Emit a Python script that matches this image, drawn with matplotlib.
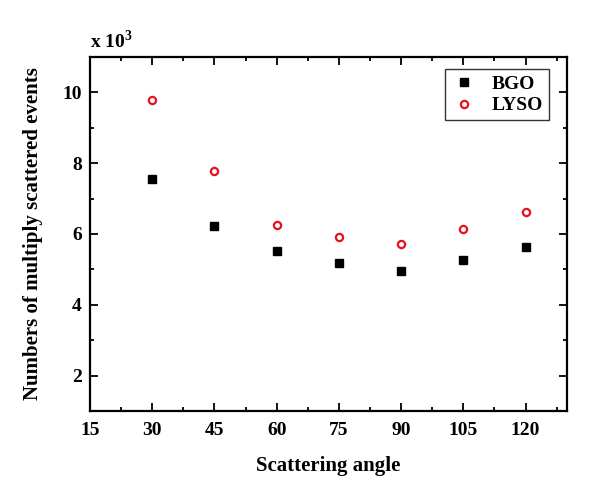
import matplotlib
matplotlib.use("Agg")
import matplotlib.pyplot as plt
from matplotlib.ticker import MultipleLocator

# ---- data (counts in units of 10^3) ----------------------------------- #
angles = [30, 45, 60, 75, 90, 105, 120]
bgo = [7.55, 6.22, 5.53, 5.17, 4.95, 5.26, 5.63]
lyso = [9.78, 7.77, 6.25, 5.92, 5.73, 6.14, 6.61]

plt.rcParams["font.family"] = "Liberation Serif"
plt.rcParams["font.weight"] = "bold"
plt.rcParams["mathtext.fontset"] = "custom"
plt.rcParams["mathtext.rm"] = "Liberation Serif:bold"
plt.rcParams["mathtext.bf"] = "Liberation Serif:bold"

W, H = 591, 495
fig = plt.figure(figsize=(W / 100, H / 100), dpi=100)
L, R, T, B = 90, 567, 57, 411
ax = fig.add_axes([L / W, (H - B) / H, (R - L) / W, (B - T) / H])

ax.plot(angles, bgo, ls="none", marker="s", ms=6.0, color="black",
        label="BGO")
ax.plot(angles, lyso, ls="none", marker="o", ms=5.2, mfc="white",
        mec="#e8121c", mew=1.6, label="LYSO")

ax.set_xlim(15, 130)
ax.set_ylim(1, 11)
ax.xaxis.set_major_locator(MultipleLocator(15))
ax.xaxis.set_minor_locator(MultipleLocator(7.5))
ax.yaxis.set_major_locator(MultipleLocator(2))
ax.yaxis.set_minor_locator(MultipleLocator(1))

for s in ax.spines.values():
    s.set_linewidth(1.6)
ax.tick_params(which="both", direction="in", top=True, right=True,
               width=1.3, labelsize=14)
ax.tick_params(which="major", length=5.5)
ax.tick_params(which="minor", length=3)
ax.tick_params(axis="x", pad=8)
ax.tick_params(axis="y", pad=6)
for lab in ax.get_xticklabels() + ax.get_yticklabels():
    lab.set_fontweight("bold")

ax.set_xlabel("Scattering angle", fontsize=15, fontweight="bold", labelpad=12)
ax.set_ylabel("Numbers of multiply scattered events", fontsize=15,
              fontweight="bold", labelpad=14)
ax.text(0.0, 1.015, r"x 10$^{3}$", transform=ax.transAxes, fontsize=14,
        fontweight="bold", ha="left", va="bottom")

leg = ax.legend(loc="upper right", bbox_to_anchor=(0.962, 0.965),
                frameon=True, fancybox=False, borderaxespad=0,
                handletextpad=0.7, borderpad=0.3, labelspacing=0.2,
                handlelength=1.4, prop={"weight": "bold", "size": 14})
leg.get_frame().set_edgecolor("black")
leg.get_frame().set_linewidth(1.0)

fig.savefig("out.png", dpi=100)
